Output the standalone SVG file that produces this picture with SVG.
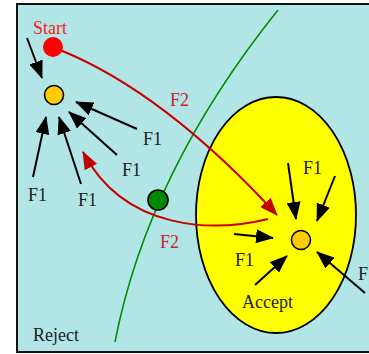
<svg xmlns="http://www.w3.org/2000/svg" width="369" height="354" viewBox="0 0 369 354">
<style>
  text { font-family: "Liberation Serif", "Times New Roman", serif; font-size: 18px; }
  .lbl { fill: #222; }
  .f2 { fill: #c82828; }
  .blk { stroke: #000; stroke-width: 2; fill: none; marker-end: url(#ah); }
  .red { stroke: #c80000; stroke-width: 2; fill: none; marker-end: url(#ahr); }
  .dot { stroke: #000; stroke-width: 1.6; }
</style>
<defs>
  <marker id="ah" markerUnits="userSpaceOnUse" markerWidth="18" markerHeight="14" refX="17" refY="7" orient="auto" viewBox="0 0 18 14">
    <path d="M0,0 L18,7 L0,14 z" fill="#000"/>
  </marker>
  <marker id="ahr" markerUnits="userSpaceOnUse" markerWidth="18" markerHeight="14" refX="17" refY="7" orient="auto" viewBox="0 0 18 14">
    <path d="M0,0 L18,7 L0,14 z" fill="#c00000"/>
  </marker>
</defs>
<rect x="17" y="4" width="360" height="348" fill="#b2e6e6" stroke="#111" stroke-width="2"/>
<g id="reject-boundary">
  <path d="M278,10 Q148,172 115,342" fill="none" stroke="#009000" stroke-width="1.6"/>
</g>
<g id="accept">
  <ellipse cx="276" cy="215" rx="80" ry="118" fill="#ffff00" stroke="#000" stroke-width="1.8"/>
  <text x="242" y="308" class="lbl">Accept</text>
</g>
<g id="reject">
  <text x="33" y="341" class="lbl">Reject</text>
</g>
<g id="connectors">
  <path class="red" d="M60,50 Q164,92 277,215"/>
  <path class="red" d="M268,219 C215,232 125,232 83,152"/>
  <line class="blk" x1="27" y1="38" x2="42" y2="78"/>
  <line class="blk" x1="137" y1="129" x2="76" y2="102"/>
  <line class="blk" x1="117" y1="155" x2="69" y2="112"/>
  <line class="blk" x1="81" y1="184" x2="59" y2="117"/>
  <line class="blk" x1="33" y1="177" x2="46" y2="117"/>
  <line class="blk" x1="288" y1="163" x2="296" y2="219"/>
  <line class="blk" x1="335" y1="176" x2="317" y2="221"/>
  <line class="blk" x1="234" y1="234" x2="273" y2="238"/>
  <line class="blk" x1="255" y1="285" x2="287" y2="256"/>
  <line class="blk" x1="365" y1="293" x2="317" y2="252"/>
</g>
<g id="start">
  <circle cx="53" cy="47" r="10" fill="#ff0000"/>
  <text x="33" y="34" fill="#ff1a1a">Start</text>
</g>
<g id="local-point">
  <circle cx="54" cy="95" r="9.5" fill="#ffcc00" class="dot"/>
</g>
<g id="boundary-point">
  <circle cx="158" cy="200" r="10" fill="#008800" class="dot"/>
</g>
<g id="accept-point">
  <circle cx="301" cy="240" r="9.5" fill="#ffcc00" class="dot"/>
</g>
<g id="labels">
  <text x="143" y="145" class="lbl">F1</text>
  <text x="122" y="176" class="lbl">F1</text>
  <text x="78" y="206" class="lbl">F1</text>
  <text x="28" y="201" class="lbl">F1</text>
  <text x="303" y="174" class="lbl">F1</text>
  <text x="235" y="266" class="lbl">F1</text>
  <text x="358" y="280" class="lbl">F1</text>
  <text x="170" y="106" class="f2">F2</text>
  <text x="160" y="248" class="f2">F2</text>
</g>
</svg>
